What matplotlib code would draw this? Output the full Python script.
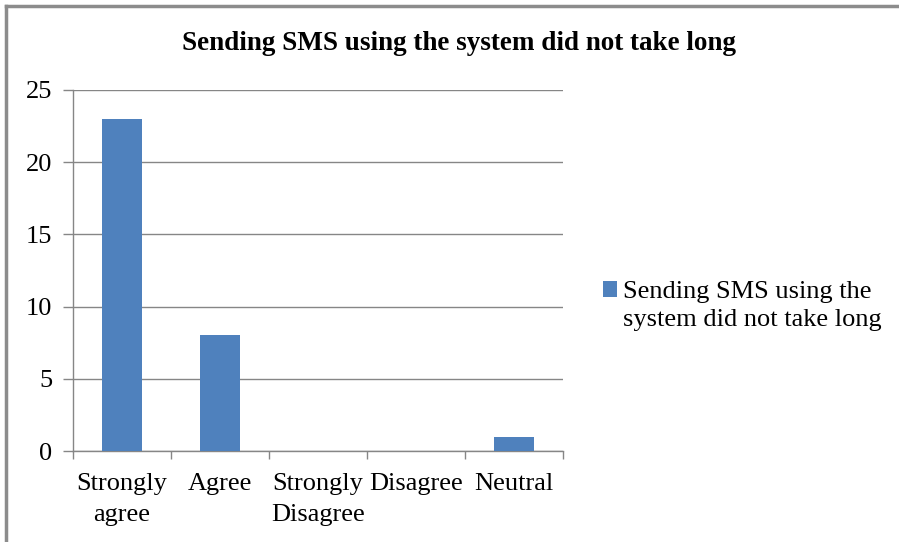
import matplotlib
matplotlib.use("Agg")
import matplotlib.pyplot as plt
from matplotlib.lines import Line2D
from matplotlib.patches import Patch

categories = ["Strongly\nagree", "Agree", "Strongly\nDisagree", "Disagree", "Neutral"]
values = [23, 8, 0, 0, 1]
series_name = "Sending SMS using the system did not take long"
legend_lines = ["Sending SMS using the", "system did not take long"]
yticks = [0, 5, 10, 15, 20, 25]

plt.rcParams['font.family'] = ['Liberation Serif', 'DejaVu Serif']

W, H = 899, 542
fig = plt.figure(figsize=(W / 100, H / 100), dpi=100)
ax = fig.add_axes([73 / W, 1 - 451 / H, (563 - 73) / W, (451 - 90) / H])

bar_color = "#4F81BD"
grid_color = "#868686"
x = list(range(len(categories)))
ax.bar(x, values, width=0.4, color=bar_color, zorder=3)

ax.set_xlim(-0.5, len(categories) - 0.5)
ax.set_ylim(0, 25)
ax.set_yticks(yticks)
ax.set_yticklabels([str(v) for v in yticks], fontsize=19)
ax.yaxis.grid(True, color=grid_color, linewidth=1.0, zorder=0)
ax.set_axisbelow(True)

ax.set_xticks(x)
ax.set_xticklabels(categories, fontsize=19, linespacing=1.5)
ax.tick_params(axis='x', length=0, pad=16)
ax.set_xticks([i - 0.5 for i in range(len(categories) + 1)], minor=True)
ax.tick_params(axis='x', which='minor', length=6, color=grid_color, width=1.0)
ax.tick_params(axis='y', length=7, color=grid_color, width=1.0, pad=8)

for side in ['top', 'right']:
    ax.spines[side].set_visible(False)
for side in ['left', 'bottom']:
    ax.spines[side].set_color(grid_color)
    ax.spines[side].set_linewidth(1.0)

fig.text(459 / W, 1 - 43 / H, series_name, ha='center', va='center',
         fontsize=19.5, fontweight='bold')

handles = [Patch(facecolor=bar_color, edgecolor='none'),
           Patch(facecolor='none', edgecolor='none')]
leg = fig.legend(handles, legend_lines, loc='center left',
                 bbox_to_anchor=(585 / W, 1 - 306 / H), frameon=False,
                 fontsize=19, handlelength=0.5, handleheight=0.55, handletextpad=0.25,
                 labelspacing=0.22, borderpad=0.2)

# chart border (left and top visible)
fig.add_artist(Line2D([6 / W, 6 / W], [0, 1 - 6 / H], transform=fig.transFigure,
                      color="#8c8c8c", linewidth=2.5))
fig.add_artist(Line2D([6 / W, 1], [1 - 6 / H, 1 - 6 / H], transform=fig.transFigure,
                      color="#8c8c8c", linewidth=2.5))

fig.savefig("out.png", dpi=100, facecolor='white')
